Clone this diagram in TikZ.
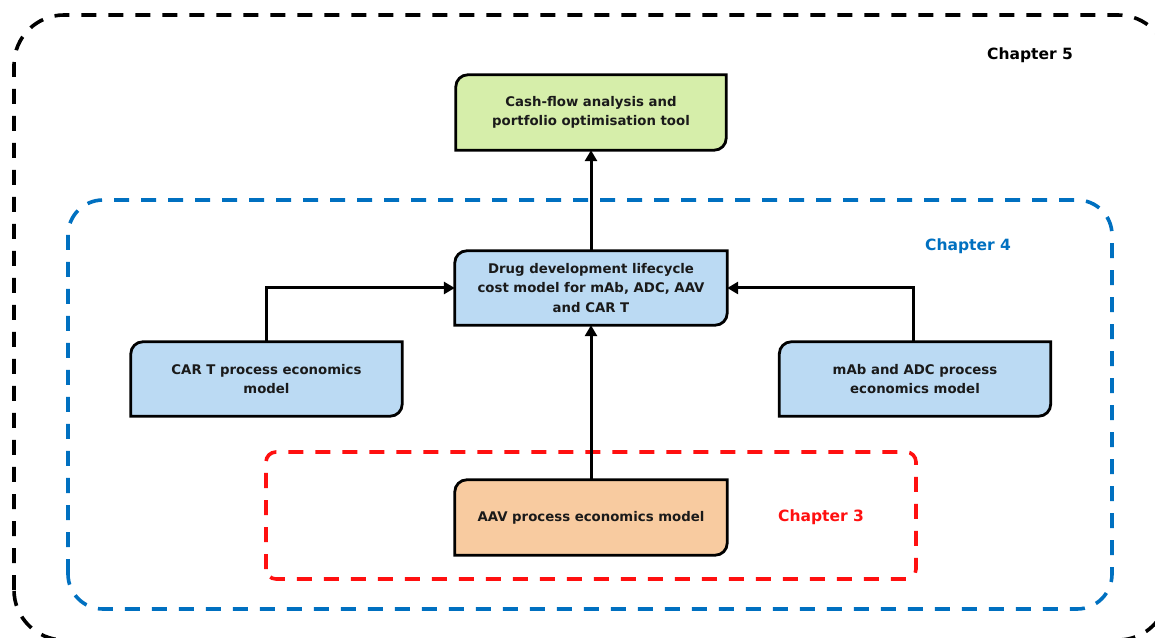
\documentclass[tikz,border=0pt]{standalone}
\usepackage{fontspec}
\setmainfont{DejaVu Sans}
\usetikzlibrary{arrows.meta,backgrounds}
\definecolor{boxblue}{HTML}{BBDAF3}
\definecolor{boxgreen}{HTML}{D6EEAA}
\definecolor{boxpeach}{HTML}{F8CBA0}
\definecolor{chapblue}{HTML}{0070C0}
\definecolor{chapred}{HTML}{FF1010}
\definecolor{ink}{HTML}{1A1A1A}
\tikzset{
  textbox/.style={draw=none, minimum width=#1, minimum height=74pt, inner sep=0pt,
    align=center, text=ink, font=\fontsize{13.3}{19.5}\selectfont\bfseries},
  textbox/.default=271pt,
  boxline/.style={draw=black, line width=2.8pt},
  chapframe/.style={dashed, line width=3.6pt, dash pattern=on 15pt off 12pt},
  chaplabel/.style={font=\fontsize{15.5}{18}\selectfont\bfseries},
  flow/.style={line width=3pt, -{Triangle[length=11pt,width=12pt]}}
}
% box with rounded top-left and bottom-right corners, drawn behind its text
\newcommand{\flowbox}[2]{%
  \begin{pgfonlayer}{background}
  \draw[boxline, fill=#2] (#1.south west) -- ([yshift=-12pt]#1.north west)
    arc[start angle=180, end angle=90, radius=12pt] -- (#1.north east)
    -- ([yshift=12pt]#1.south east)
    arc[start angle=0, end angle=-90, radius=12pt] -- cycle;
  \end{pgfonlayer}}
\begin{document}
\begin{tikzpicture}[x=1pt,y=1pt]
\useasboundingbox (0,0) rectangle (1155,637);
\begin{scope}
\clip (0,0) rectangle (1155,637);
% chapter frames
\draw[chapframe, black, rounded corners=50pt] (14,-3) rectangle (1168,622);
\end{scope}
\draw[chapframe, chapblue, rounded corners=35pt] (68,28) rectangle (1112,437);
\draw[chapframe, chapred, rounded corners=10pt] (266,58) rectangle (916,185);

\node[chaplabel, black] (ch5) at (1030,582) {Chapter 5};
\node[chaplabel, chapblue] (ch4) at (968,391) {Chapter 4};
\node[chaplabel, chapred] (ch3) at (821,120) {Chapter 3};

% model boxes
\node[textbox=270pt, minimum height=75pt] (cash) at (591,524.5) {Cash-flow analysis and\\portfolio optimisation tool};
\node[textbox=272pt] (life) at (591,349) {Drug development lifecycle\\cost model for mAb, ADC, AAV\\and CAR T};
\node[textbox] (cart) at (266.5,258) {CAR T process economics\\model};
\node[textbox] (mab) at (915,258) {mAb and ADC process\\economics model};
\node[textbox=272pt, minimum height=75pt] (aav) at (591,119.5) {AAV process economics model};

\flowbox{cash}{boxgreen}
\flowbox{life}{boxblue}
\flowbox{cart}{boxblue}
\flowbox{mab}{boxblue}
\flowbox{aav}{boxpeach}

% connectors
\draw[flow] (life.north) -- (cash.south);
\draw[flow] (aav.north) -- (life.south);
\draw[flow] (cart.north) |- (life.west);
\draw[flow] ([xshift=-2pt]mab.north) |- (life.east);
\end{tikzpicture}
\end{document}
